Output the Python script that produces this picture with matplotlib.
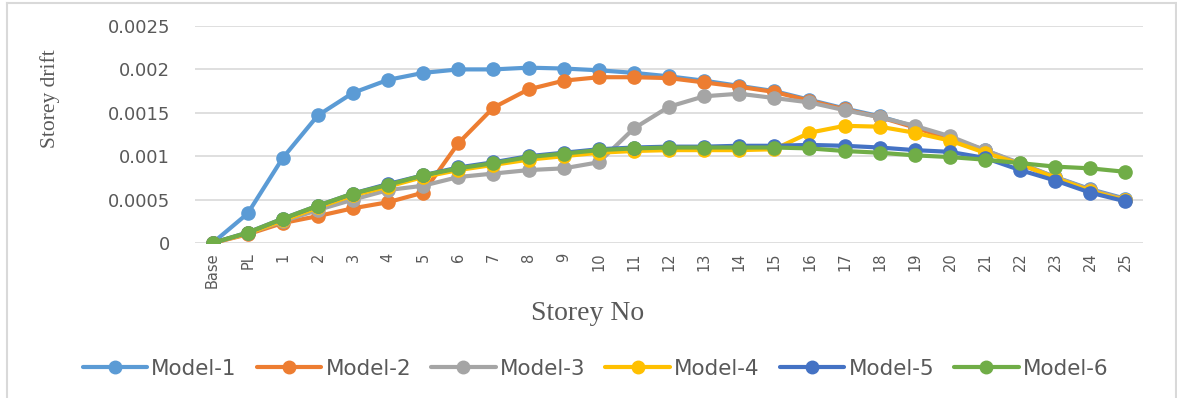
import matplotlib
matplotlib.use("Agg")
import matplotlib.pyplot as plt
from matplotlib.lines import Line2D

# Storey levels along the building height
storeys = ["Base", "PL"] + [str(i) for i in range(1, 26)]

# Storey drift for each structural model
model_1 = [0, 0.00034, 0.00098, 0.00147, 0.00173, 0.00188, 0.00196, 0.00200, 0.00200,
           0.00202, 0.00201, 0.00199, 0.00196, 0.00192, 0.00187, 0.00181, 0.00175,
           0.00165, 0.00155, 0.00146, 0.00134, 0.00121, 0.00107, 0.00091, 0.00076,
           0.00062, 0.00051]
model_2 = [0, 0.00010, 0.00023, 0.00031, 0.00040, 0.00047, 0.00058, 0.00115, 0.00156,
           0.00177, 0.00187, 0.00191, 0.00191, 0.00190, 0.00185, 0.00180, 0.00174,
           0.00164, 0.00154, 0.00145, 0.00133, 0.00120, 0.00106, 0.00091, 0.00075,
           0.00061, 0.00050]
model_3 = [0, 0.00011, 0.00025, 0.00038, 0.00050, 0.00061, 0.00066, 0.00076, 0.00080,
           0.00084, 0.00086, 0.00093, 0.00132, 0.00157, 0.00169, 0.00172, 0.00167,
           0.00162, 0.00153, 0.00145, 0.00135, 0.00123, 0.00107, 0.00092, 0.00076,
           0.00061, 0.00050]
model_4 = [0, 0.00011, 0.00026, 0.00041, 0.00055, 0.00065, 0.00076, 0.00084, 0.00090,
           0.00096, 0.00100, 0.00104, 0.00106, 0.00107, 0.00107, 0.00107, 0.00108,
           0.00127, 0.00135, 0.00134, 0.00127, 0.00118, 0.00104, 0.00091, 0.00075,
           0.00060, 0.00049]
model_5 = [0, 0.00012, 0.00028, 0.00043, 0.00057, 0.00068, 0.00078, 0.00087, 0.00093,
           0.00100, 0.00104, 0.00108, 0.00110, 0.00111, 0.00111, 0.00112, 0.00112,
           0.00113, 0.00112, 0.00110, 0.00107, 0.00105, 0.00098, 0.00084, 0.00072,
           0.00058, 0.00048]
model_6 = [0, 0.00012, 0.00028, 0.00043, 0.00057, 0.00067, 0.00078, 0.00086, 0.00092,
           0.00099, 0.00103, 0.00107, 0.00109, 0.00110, 0.00110, 0.00110, 0.00110,
           0.00109, 0.00106, 0.00104, 0.00101, 0.00099, 0.00096, 0.00092, 0.00088,
           0.00086, 0.00082]

series_names = ["Model-1", "Model-2", "Model-3", "Model-4", "Model-5", "Model-6"]
y_ticks = [0, 0.0005, 0.001, 0.0015, 0.002, 0.0025]
y_tick_labels = ["0", "0.0005", "0.001", "0.0015", "0.002", "0.0025"]

colors = ["#5B9BD5", "#ED7D31", "#A5A5A5", "#FFC000", "#4472C4", "#70AD47"]
text_grey = "#595959"
grid_grey = "#D9D9D9"

W, H = 1177, 398
fig = plt.figure(figsize=(W / 100, H / 100), dpi=100)
fig.patch.set_facecolor("white")

ax = fig.add_axes([195 / W, 1 - 243 / H, 948 / W, 217 / H])
x = list(range(len(storeys)))
all_series = [model_1, model_2, model_3, model_4, model_5, model_6]
for i, (name, vals) in enumerate(zip(series_names, all_series)):
    ax.plot(x, vals, color=colors[i], lw=3.0, marker="o", ms=9.5,
            solid_capstyle="round", label=name, zorder=3 + i)

ax.set_xlim(-0.5, len(storeys) - 0.5)
ax.set_ylim(0, 0.0025)
ax.set_yticks(y_ticks)
ax.set_yticklabels(y_tick_labels)
ax.set_xticks(x)
ax.set_xticklabels(storeys, rotation=90)
for s in ax.spines.values():
    s.set_visible(False)
ax.grid(axis="y", color=grid_grey, lw=1.2, zorder=0)
ax.set_axisbelow(True)
ax.tick_params(axis="y", length=0, pad=18, labelsize=13, labelcolor=text_grey)
ax.tick_params(axis="x", length=0, pad=7, labelsize=10.5, labelcolor=text_grey)

# Axis titles
fig.text(50 / W, 1 - 99 / H, "Storey drift", rotation=90, ha="center", va="center",
         fontsize=15.5, family="Liberation Serif", color=text_grey)
fig.text(588 / W, 1 - 314 / H, "Storey No", ha="center", va="center",
         fontsize=20, family="Liberation Serif", color=text_grey)

# Legend along the bottom
handles = [Line2D([0], [0], color=c, lw=3.0, marker="o", ms=9,
                  solid_capstyle="round") for c in colors]
leg = fig.legend(handles, series_names, loc="center", ncol=6,
                 bbox_to_anchor=(595.5 / W, 1 - 369 / H), frameon=False,
                 fontsize=15.5, handlelength=3.0, handletextpad=0.19,
                 columnspacing=0.93, borderpad=0)
for t in leg.get_texts():
    t.set_color(text_grey)

# Chart area outline
for xs, ys in [((7 / W, 7 / W), (0, 1 - 3 / H)),
               ((7 / W, 1176 / W), (1 - 3 / H, 1 - 3 / H)),
               ((1176 / W, 1176 / W), (1 - 3 / H, 0))]:
    fig.add_artist(Line2D(xs, ys, transform=fig.transFigure, color=grid_grey, lw=1.5))

fig.savefig("out.png", dpi=100)
